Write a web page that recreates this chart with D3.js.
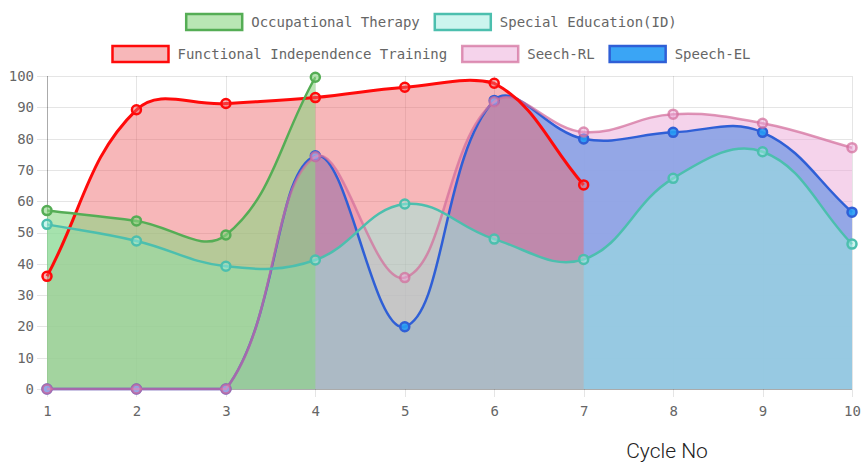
<!DOCTYPE html>
<html>
<head>
<meta charset="utf-8">
<script src="https://cdn.jsdelivr.net/npm/d3@7/dist/d3.min.js"></script>
<style>
  html, body { margin: 0; padding: 0; background: #fff; }
  svg { display: block; }
</style>
</head>
<body>
<svg id="chart" width="862" height="467"></svg>
<script>
// ---------- data ----------
const cycles = [1, 2, 3, 4, 5, 6, 7, 8, 9, 10];
const yTicks = [0, 10, 20, 30, 40, 50, 60, 70, 80, 90, 100];
const seriesNames = ["Occupational Therapy", "Special Education(ID)", "Functional Independence Training", "Seech-RL", "Speech-EL"];
const occupationalTherapy = [57, 53.7, 49.2, 99.6];
const specialEducation = [52.6, 47.3, 39.2, 41.2, 59.1, 47.9, 41.4, 67.3, 75.8, 46.3];
const functionalIndependence = [36, 89.2, 91.2, 93.1, 96.4, 97.7, 65.2];
const seechRL = [0, 0, 0, 74.2, 35.6, 91.8, 82.1, 87.8, 84.9, 77.1];
const speechEL = [0, 0, 0, 74.5, 19.9, 92.2, 79.9, 82, 82, 56.5];
const xTitle = "Cycle No";

// ---------- styles ----------
const styles = [
  { fill: "rgba(138,213,130,0.6)", stroke: "#55ad55", width: 2.5 },
  { fill: "rgba(153,235,221,0.5)", stroke: "#4cbfae", width: 2.5 },
  { fill: "rgba(238,105,109,0.48)", stroke: "#ff0a0a", width: 3 },
  { fill: "rgba(235,169,216,0.51)", stroke: "rgba(210,110,155,0.72)", width: 2.5 },
  { fill: "rgba(37,155,244,0.9)", stroke: "#2f5fd6", width: 2.5 }
];
const seriesData = [occupationalTherapy, specialEducation, functionalIndependence, seechRL, speechEL];

const W = 862, H = 467;
const area = { left: 47, right: 852, top: 76, bottom: 389 };
const svg = d3.select("#chart");
const x = d3.scaleLinear().domain([1, 10]).range([area.left, area.right]);
const y = d3.scaleLinear().domain([0, 100]).range([area.bottom, area.top]);

const FONT = "'DejaVu Sans Mono', monospace";

// ---------- grid & axes ----------
const gridColor = "rgba(0,0,0,0.1)";
const gY = svg.append("g")
  .call(d3.axisLeft(y).tickValues(yTicks).tickSize(area.right - area.left + 10).tickPadding(3))
  .attr("transform", `translate(${area.right},0)`);
gY.select(".domain").remove();
gY.selectAll(".tick line").attr("stroke", gridColor).attr("shape-rendering", "crispEdges");
gY.selectAll(".tick text").attr("fill", "#666").style("font-family", FONT).style("font-size", "14px");

const gX = svg.append("g").attr("transform", `translate(0,${area.top})`)
  .call(d3.axisBottom(x).tickValues(cycles).tickFormat(d3.format("d")).tickSize(area.bottom - area.top + 8).tickPadding(9));
gX.select(".domain").remove();
gX.selectAll(".tick line").attr("stroke", gridColor).attr("shape-rendering", "crispEdges");
gX.selectAll(".tick text").attr("fill", "#666").style("font-family", FONT).style("font-size", "14px");

// axis borders
svg.append("line").attr("x1", area.left).attr("x2", area.left).attr("y1", area.top).attr("y2", area.bottom)
  .attr("stroke", "rgba(0,0,0,0.25)").attr("shape-rendering", "crispEdges");
svg.append("line").attr("x1", area.left).attr("x2", area.right).attr("y1", area.bottom).attr("y2", area.bottom)
  .attr("stroke", "rgba(0,0,0,0.25)").attr("shape-rendering", "crispEdges");

// ---------- Chart.js-like spline ----------
function controlPoints(pts, t) {
  const cp = pts.map((p, i) => {
    const prev = pts[i - 1] || p, next = pts[i + 1] || p;
    const d01 = Math.hypot(p[0] - prev[0], p[1] - prev[1]);
    const d12 = Math.hypot(next[0] - p[0], next[1] - p[1]);
    let s01 = d01 / (d01 + d12), s12 = d12 / (d01 + d12);
    if (!isFinite(s01)) s01 = 0;
    if (!isFinite(s12)) s12 = 0;
    const fa = t * s01, fb = t * s12;
    return {
      px: p[0] - fa * (next[0] - prev[0]), py: p[1] - fa * (next[1] - prev[1]),
      nx: p[0] + fb * (next[0] - prev[0]), ny: p[1] + fb * (next[1] - prev[1])
    };
  });
  const cx = v => Math.max(area.left, Math.min(area.right, v));
  const cy = v => Math.max(area.top, Math.min(area.bottom, v));
  cp.forEach(c => { c.px = cx(c.px); c.nx = cx(c.nx); c.py = cy(c.py); c.ny = cy(c.ny); });
  return cp;
}
function splinePath(pts, close) {
  const cp = controlPoints(pts, 0.4);
  const p = d3.path();
  p.moveTo(pts[0][0], pts[0][1]);
  for (let i = 1; i < pts.length; i++) {
    p.bezierCurveTo(cp[i - 1].nx, cp[i - 1].ny, cp[i].px, cp[i].py, pts[i][0], pts[i][1]);
  }
  if (close) {
    p.lineTo(pts[pts.length - 1][0], y(0));
    p.lineTo(pts[0][0], y(0));
    p.closePath();
  }
  return p.toString();
}

const ptsOf = data => data.map((v, i) => [x(cycles[i]), y(v)]);

// fills: drawn from last dataset to first
const fillG = svg.append("g");
for (let i = seriesData.length - 1; i >= 0; i--) {
  fillG.append("path").attr("d", splinePath(ptsOf(seriesData[i]), true))
    .attr("fill", styles[i].fill).attr("stroke", "none");
}
// lines + points
const lineG = svg.append("g");
for (let i = seriesData.length - 1; i >= 0; i--) {
  const pts = ptsOf(seriesData[i]);
  lineG.append("path").attr("d", splinePath(pts, false))
    .attr("fill", "none").attr("stroke", styles[i].stroke).attr("stroke-width", styles[i].width);
  lineG.append("g").selectAll("circle").data(seriesData[i]).join("circle")
    .attr("cx", (d, j) => x(cycles[j])).attr("cy", d => y(d)).attr("r", 4.5)
    .attr("fill", styles[i].fill).attr("stroke", styles[i].stroke).attr("stroke-width", 2.5);
}

// ---------- legend ----------
const rows = [[0, 1], [2, 3, 4]];
const rowY = [13, 45];
const boxW = 58, boxH = 18, gapBox = 8, gapItem = 14;
const legend = svg.append("g");
rows.forEach((row, r) => {
  const g = legend.append("g");
  let cx = 0;
  row.forEach(i => {
    const it = g.append("g").attr("transform", `translate(${cx},${rowY[r]})`);
    it.append("rect").attr("x", 1).attr("y", 1).attr("width", boxW - 2).attr("height", boxH - 2)
      .attr("fill", styles[i].fill).attr("stroke", styles[i].stroke).attr("stroke-width", 2.5);
    const t = it.append("text").attr("x", boxW + gapBox).attr("y", boxH / 2).attr("dy", "0.35em")
      .attr("fill", "#666").style("font-family", FONT).style("font-size", "14px").text(seriesNames[i]);
    cx += boxW + gapBox + t.node().getComputedTextLength() + gapItem;
  });
  const total = cx - gapItem;
  g.attr("transform", `translate(${(W - total) / 2},0)`);
});

// ---------- x title ----------
svg.append("text").attr("x", 667).attr("y", 458).attr("text-anchor", "middle")
  .attr("fill", "#222").style("font-family", "Roboto, 'Liberation Sans', sans-serif").style("font-weight", "300").style("font-size", "21px")
  .text(xTitle);
</script>
</body>
</html>
